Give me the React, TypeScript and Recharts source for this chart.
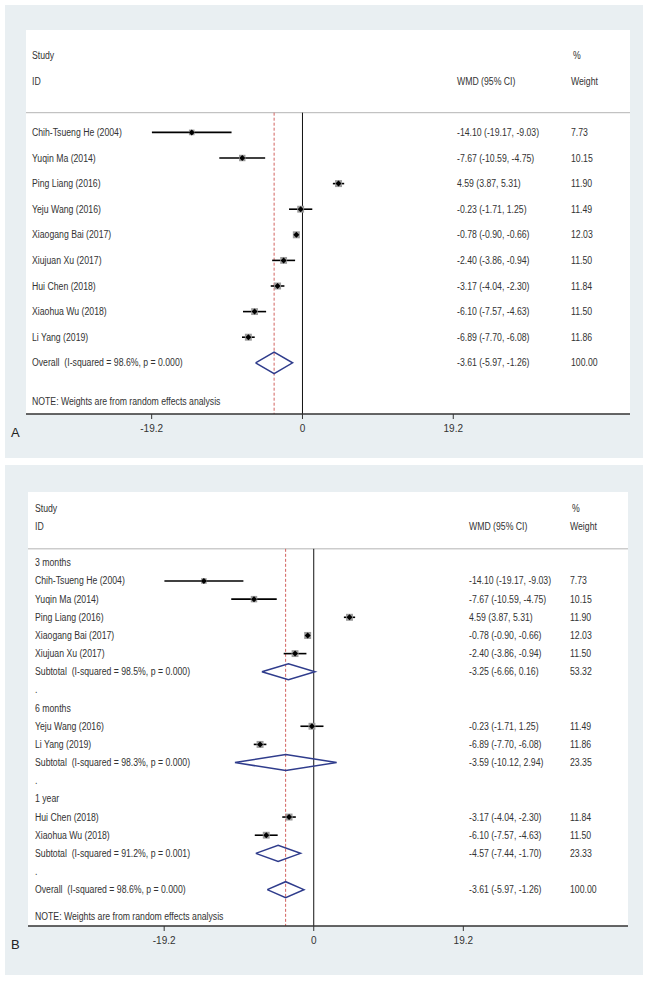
import React from 'react';
import { ComposedChart, XAxis, YAxis, Scatter, ErrorBar, ReferenceLine } from 'recharts';

// ---------------- data ----------------
const studyNames = [
  'Chih-Tsueng He (2004)', 'Yuqin Ma (2014)', 'Ping Liang (2016)', 'Yeju Wang (2016)',
  'Xiaogang Bai (2017)', 'Xiujuan Xu (2017)', 'Hui Chen (2018)', 'Xiaohua Wu (2018)', 'Li Yang (2019)',
];
const studyWMD = [-14.10, -7.67, 4.59, -0.23, -0.78, -2.40, -3.17, -6.10, -6.89];
const studyLow = [-19.17, -10.59, 3.87, -1.71, -0.90, -3.86, -4.04, -7.57, -7.70];
const studyHigh = [-9.03, -4.75, 5.31, 1.25, -0.66, -0.94, -2.30, -4.63, -6.08];
const studyWeight = [7.73, 10.15, 11.90, 11.49, 12.03, 11.50, 11.84, 11.50, 11.86];
const studyFollowUp = ['3 months', '3 months', '3 months', '6 months', '3 months', '3 months', '1 year', '1 year', '6 months'];

const groupNames = ['3 months', '6 months', '1 year'];
const groupHet = ['I-squared = 98.5%, p = 0.000', 'I-squared = 98.3%, p = 0.000', 'I-squared = 91.2%, p = 0.001'];
const groupWMD = [-3.25, -3.59, -4.57];
const groupLow = [-6.66, -10.12, -7.44];
const groupHigh = [0.16, 2.94, -1.70];
const groupWeight = [53.32, 23.35, 23.33];

const overallHet = 'I-squared = 98.6%, p = 0.000';
const overallWMD = -3.61;
const overallLow = -5.97;
const overallHigh = -1.26;
const overallWeight = 100.0;

const xTicks = [-19.2, 0, 19.2];
const noteText = 'NOTE: Weights are from random effects analysis';

// ---------------- helpers ----------------
const FONT = "'Liberation Sans', Arial, Helvetica, sans-serif";
const SX = 0.87;
const TEXT = '#333';
const NAVY = '#2F3C8C';
const f2 = (v: number) => v.toFixed(2);
const ciText = (e: number, l: number, h: number) => `${f2(e)} (${f2(l)}, ${f2(h)})`;

type TextRow = { x: number; y: number; label: string; wmd: string; weight: string };
type StudyRow = { x: number; y: number; w: number; err: [number, number] };
type Diamond = { x: number; y: number }[];

const diamond = (e: number, l: number, h: number, row: number, hh: number): Diamond => [
  { x: l, y: row }, { x: e, y: row - hh }, { x: h, y: row }, { x: e, y: row + hh }, { x: l, y: row },
];

const headerRows = (): TextRow[] => [
  { x: 0, y: -3, label: 'Study', wmd: '', weight: '%' },
  { x: 0, y: -2, label: 'ID', wmd: 'WMD (95% CI)', weight: 'Weight' },
];

function buildA() {
  const texts: TextRow[] = headerRows();
  const studies: StudyRow[] = [];
  studyNames.forEach((n, i) => {
    texts.push({ x: 0, y: i, label: n, wmd: ciText(studyWMD[i], studyLow[i], studyHigh[i]), weight: f2(studyWeight[i]) });
    studies.push({ x: studyWMD[i], y: i, w: studyWeight[i], err: [studyWMD[i] - studyLow[i], studyHigh[i] - studyWMD[i]] });
  });
  const oRow = studyNames.length;
  texts.push({ x: 0, y: oRow, label: `Overall  (${overallHet})`, wmd: ciText(overallWMD, overallLow, overallHigh), weight: f2(overallWeight) });
  texts.push({ x: 0, y: oRow + 1.5, label: noteText, wmd: '', weight: '' });
  const diamonds = [diamond(overallWMD, overallLow, overallHigh, oRow, 0.42)];
  return { texts, studies, diamonds, axisRow: oRow + 2 };
}

function buildB() {
  const texts: TextRow[] = headerRows();
  const studies: StudyRow[] = [];
  const diamonds: Diamond[] = [];
  let r = 0;
  groupNames.forEach((g, gi) => {
    texts.push({ x: 0, y: r, label: g, wmd: '', weight: '' });
    r++;
    studyNames.forEach((n, i) => {
      if (studyFollowUp[i] !== g) return;
      texts.push({ x: 0, y: r, label: n, wmd: ciText(studyWMD[i], studyLow[i], studyHigh[i]), weight: f2(studyWeight[i]) });
      studies.push({ x: studyWMD[i], y: r, w: studyWeight[i], err: [studyWMD[i] - studyLow[i], studyHigh[i] - studyWMD[i]] });
      r++;
    });
    texts.push({ x: 0, y: r, label: `Subtotal  (${groupHet[gi]})`, wmd: ciText(groupWMD[gi], groupLow[gi], groupHigh[gi]), weight: f2(groupWeight[gi]) });
    diamonds.push(diamond(groupWMD[gi], groupLow[gi], groupHigh[gi], r, 0.44));
    r++;
    texts.push({ x: 0, y: r, label: '.', wmd: '', weight: '' });
    r++;
  });
  texts.push({ x: 0, y: r, label: `Overall  (${overallHet})`, wmd: ciText(overallWMD, overallLow, overallHigh), weight: f2(overallWeight) });
  diamonds.push(diamond(overallWMD, overallLow, overallHigh, r, 0.44));
  texts.push({ x: 0, y: r + 1.5, label: noteText, wmd: '', weight: '' });
  return { texts, studies, diamonds, axisRow: r + 2 };
}

const T = ({ x, y, children }: { x: number; y: number; children: React.ReactNode }) => (
  <text
    transform={`translate(${x},${y}) scale(${SX},1)`}
    dy="0.35em"
    fontSize={10}
    fontFamily={FONT}
    fill={TEXT}
    style={{ whiteSpace: 'pre' }}
  >
    {children}
  </text>
);

const Empty = () => <g />;

const StudyMark = (p: any) => {
  const { cx, cy, payload } = p;
  const s = 7 * Math.sqrt(payload.w / 12);
  const d = 3;
  return (
    <g>
      <rect x={cx - s / 2} y={cy - s / 2} width={s} height={s} fill="#9c9c9c" />
      <path d={`M${cx - d},${cy}L${cx},${cy - d}L${cx + d},${cy}L${cx},${cy + d}Z`} fill="#000" />
    </g>
  );
};

type Cfg = {
  top: number;
  width: number;
  height: number;
  margin: { top: number; left: number; right: number; bottom: number };
  xDomain: [number, number];
  yDomain: [number, number];
  cols: { label: number; wmd: number; weight: number };
  data: ReturnType<typeof buildA>;
};

function ForestChart({ cfg }: { cfg: Cfg }) {
  const { data, cols } = cfg;
  const TextShape = (p: any) => {
    const { cy, payload } = p;
    return (
      <g>
        {payload.label ? <T x={cols.label} y={cy}>{payload.label}</T> : null}
        {payload.wmd ? <T x={cols.wmd} y={cy}>{payload.wmd}</T> : null}
        {payload.weight ? <T x={payload.weight === '%' ? cols.weight + 2 : cols.weight} y={cy}>{payload.weight}</T> : null}
      </g>
    );
  };
  const sepRow = -0.77;
  return (
    <div style={{ position: 'absolute', left: 0, top: cfg.top }}>
      <ComposedChart width={cfg.width} height={cfg.height} margin={cfg.margin}>
        <XAxis
          type="number"
          dataKey="x"
          domain={cfg.xDomain}
          allowDataOverflow
          ticks={xTicks}
          height={30}
          tickSize={5}
          tickMargin={6}
          axisLine={{ stroke: '#333', strokeWidth: 1.5 }}
          tickLine={{ stroke: '#333' }}
          tick={{ fontSize: 10, fill: TEXT, fontFamily: FONT }}
        />
        <YAxis type="number" dataKey="y" domain={cfg.yDomain} reversed hide allowDataOverflow />
        <ReferenceLine y={sepRow} stroke="#b4b4b4" strokeWidth={1} />
        <ReferenceLine
          segment={[{ x: 0, y: sepRow }, { x: 0, y: data.axisRow }]}
          stroke="#111"
          strokeWidth={1}
        />
        <ReferenceLine
          segment={[{ x: overallWMD, y: sepRow }, { x: overallWMD, y: data.axisRow }]}
          stroke="#D2625F"
          strokeWidth={1}
          strokeDasharray="3 2"
        />
        <Scatter data={data.texts} shape={TextShape} isAnimationActive={false} />
        <Scatter data={data.studies} shape={StudyMark} isAnimationActive={false}>
          <ErrorBar dataKey="err" direction="x" width={0} stroke="#000" strokeWidth={1.6} />
        </Scatter>
        {data.diamonds.map((d, i) => (
          <Scatter
            key={i}
            data={d}
            shape={Empty}
            line={{ stroke: NAVY, strokeWidth: 1.5 }}
            isAnimationActive={false}
          />
        ))}
      </ComposedChart>
    </div>
  );
}

const dataA = buildA();
const dataB = buildB();

const cfgA: Cfg = {
  top: 0,
  width: 652,
  height: 460,
  margin: { top: 30, left: 26, right: 22, bottom: 16 },
  xDomain: [-35.2, 41.7],
  yDomain: [-4, dataA.axisRow],
  cols: { label: 32, wmd: 457, weight: 571 },
  data: dataA,
};

const cfgB: Cfg = {
  top: 462,
  width: 652,
  height: 500,
  margin: { top: 30, left: 28, right: 24, bottom: 6 },
  xDomain: [-36.68, 40.34],
  yDomain: [-3.9, dataB.axisRow],
  cols: { label: 35, wmd: 469, weight: 570 },
  data: dataB,
};

const BG = '#E9EFF2';

export default function App() {
  return (
    <div style={{ position: 'absolute', left: 0, top: 0, width: 652, height: 982, background: '#fff', overflow: 'hidden' }}>
      <div style={{ position: 'absolute', left: 5, top: 5, width: 638, height: 453, background: BG }} />
      <div style={{ position: 'absolute', left: 26, top: 30, width: 604, height: 384, background: '#fff' }} />
      <div style={{ position: 'absolute', left: 5, top: 465, width: 638, height: 510, background: BG }} />
      <div style={{ position: 'absolute', left: 28, top: 492, width: 600, height: 434, background: '#fff' }} />
      <ForestChart cfg={cfgA} />
      <ForestChart cfg={cfgB} />
      <div style={{ position: 'absolute', left: 11, top: 425, fontFamily: FONT, fontSize: 13, color: '#222' }}>A</div>
      <div style={{ position: 'absolute', left: 11, top: 937, fontFamily: FONT, fontSize: 13, color: '#222' }}>B</div>
    </div>
  );
}
